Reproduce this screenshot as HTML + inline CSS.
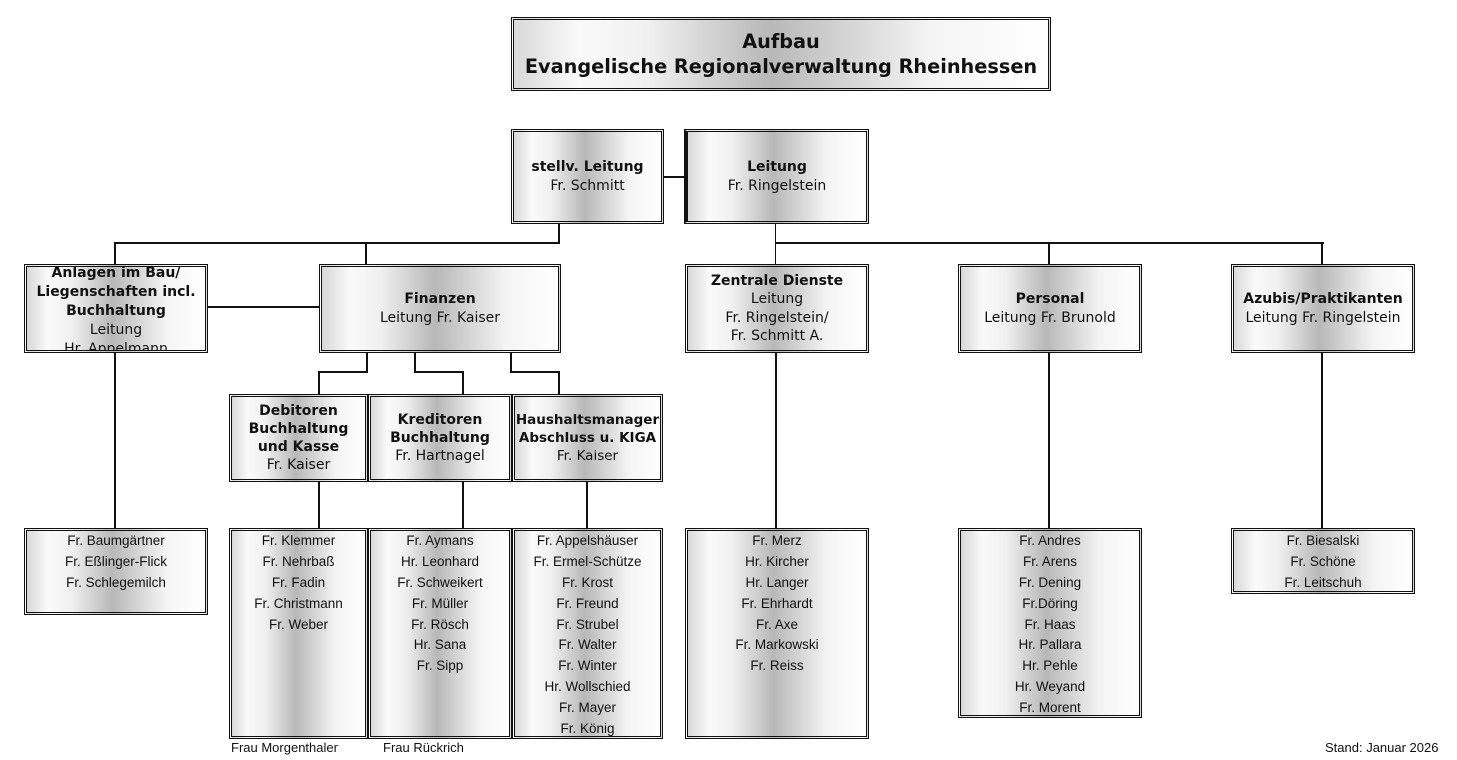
<!DOCTYPE html>
<html><head><meta charset="utf-8"><style>
body{margin:0;width:1457px;height:760px;background:#fff;position:relative;overflow:hidden;font-family:"DejaVu Sans","Liberation Sans",sans-serif;color:#111}
.b{position:absolute;box-sizing:border-box;border:3px double #111;background:linear-gradient(to right,#d8d8d8 0%,#fafafa 12%,#f0f0f0 25%,#b8b8b8 48%,#f4f4f4 78%,#ffffff 100%);display:flex;flex-direction:column;align-items:center;justify-content:center;text-align:center;font-size:14px;line-height:18.5px}
.b b{font-weight:bold}
.l{position:absolute;box-sizing:border-box;border:3px double #111;background:linear-gradient(to right,#d8d8d8 0%,#fafafa 12%,#f0f0f0 25%,#b8b8b8 48%,#f4f4f4 78%,#ffffff 100%);text-align:center;font-family:"Liberation Sans",sans-serif;font-size:13.5px;padding-top:0px}
.l div{height:20.9px;line-height:20px}
.h{position:absolute;height:2px;background:#111}
.v{position:absolute;width:2px;background:#111}
.t{position:absolute;font-family:"Liberation Sans",sans-serif;font-size:13px}
</style></head><body>
<div class="b" style="left:511px;top:17px;width:540px;height:74px;font-size:19.3px;line-height:25px;font-weight:bold"><div>Aufbau</div><div>Evangelische Regionalverwaltung Rheinhessen</div></div>

<div class="b" style="left:511px;top:129px;width:153px;height:95px"><b>stellv. Leitung</b><div>Fr. Schmitt</div></div>
<div class="b" style="left:684px;top:129px;width:185px;height:95px;border-left:4px solid #111"><b>Leitung</b><div>Fr. Ringelstein</div></div>
<div class="h" style="left:663px;top:176px;width:22px"></div>

<div class="v" style="left:558px;top:223px;height:21px"></div>
<div class="h" style="left:114px;top:242px;width:446px"></div>
<div class="v" style="left:114px;top:242px;height:22px"></div>
<div class="v" style="left:365px;top:242px;height:22px"></div>
<div class="v" style="left:775px;top:223px;height:41px;width:1px"></div>
<div class="h" style="left:775px;top:242px;width:549px"></div>
<div class="v" style="left:1048px;top:242px;height:22px"></div>
<div class="v" style="left:1321px;top:242px;height:22px"></div>

<div class="b" style="left:24px;top:264px;width:184px;height:89px;justify-content:flex-start;line-height:19px;overflow:hidden"><div style="margin-top:-3px"><b>Anlagen im Bau/<br>Liegenschaften incl.<br>Buchhaltung</b></div><div>Leitung</div><div>Hr. Appelmann</div></div>
<div class="h" style="left:207px;top:306px;width:113px"></div>
<div class="b" style="left:319px;top:264px;width:242px;height:89px"><b>Finanzen</b><div>Leitung Fr. Kaiser</div></div>
<div class="b" style="left:685px;top:264px;width:184px;height:89px"><b>Zentrale Dienste</b><div>Leitung</div><div>Fr. Ringelstein/</div><div>Fr. Schmitt A.</div></div>
<div class="b" style="left:958px;top:264px;width:184px;height:89px"><b>Personal</b><div>Leitung Fr. Brunold</div></div>
<div class="b" style="left:1231px;top:264px;width:184px;height:89px"><b>Azubis/Praktikanten</b><div>Leitung Fr. Ringelstein</div></div>

<div class="v" style="left:366px;top:352px;height:21px"></div>
<div class="h" style="left:318px;top:371px;width:50px"></div>
<div class="v" style="left:318px;top:371px;height:23px"></div>
<div class="v" style="left:414px;top:352px;height:21px"></div>
<div class="h" style="left:414px;top:371px;width:50px"></div>
<div class="v" style="left:462px;top:371px;height:23px"></div>
<div class="v" style="left:510px;top:352px;height:21px"></div>
<div class="h" style="left:510px;top:371px;width:50px"></div>
<div class="v" style="left:558px;top:371px;height:23px"></div>

<div class="b" style="left:229px;top:394px;width:139px;height:88px;line-height:18px"><b>Debitoren<br>Buchhaltung<br>und Kasse</b><div>Fr. Kaiser</div></div>
<div class="b" style="left:368px;top:394px;width:144px;height:88px;line-height:18px"><b>Kreditoren<br>Buchhaltung</b><div>Fr. Hartnagel</div></div>
<div class="b" style="left:512px;top:394px;width:151px;height:88px;line-height:18px;font-size:13.5px"><b>Haushaltsmanager<br>Abschluss u. KIGA</b><div>Fr. Kaiser</div></div>

<div class="v" style="left:114px;top:352px;height:176px"></div>
<div class="v" style="left:318px;top:481px;height:47px"></div>
<div class="v" style="left:462px;top:481px;height:47px"></div>
<div class="v" style="left:586px;top:481px;height:47px"></div>
<div class="v" style="left:775px;top:352px;height:176px"></div>
<div class="v" style="left:1048px;top:352px;height:176px"></div>
<div class="v" style="left:1321px;top:352px;height:176px"></div>

<div class="l" style="left:24px;top:528px;width:184px;height:87px"><div>Fr. Baumgärtner</div><div>Fr. Eßlinger-Flick</div><div>Fr. Schlegemilch</div></div>
<div class="l" style="left:229px;top:528px;width:139px;height:211px"><div>Fr. Klemmer</div><div>Fr. Nehrbaß</div><div>Fr. Fadin</div><div>Fr. Christmann</div><div>Fr. Weber</div></div>
<div class="l" style="left:368px;top:528px;width:144px;height:211px"><div>Fr. Aymans</div><div>Hr. Leonhard</div><div>Fr. Schweikert</div><div>Fr. Müller</div><div>Fr. Rösch</div><div>Hr. Sana</div><div>Fr. Sipp</div></div>
<div class="l" style="left:512px;top:528px;width:151px;height:211px"><div>Fr. Appelshäuser</div><div>Fr. Ermel-Schütze</div><div>Fr. Krost</div><div>Fr. Freund</div><div>Fr. Strubel</div><div>Fr. Walter</div><div>Fr. Winter</div><div>Hr. Wollschied</div><div>Fr. Mayer</div><div>Fr. König</div></div>
<div class="l" style="left:685px;top:528px;width:184px;height:211px"><div>Fr. Merz</div><div>Hr. Kircher</div><div>Hr. Langer</div><div>Fr. Ehrhardt</div><div>Fr. Axe</div><div>Fr. Markowski</div><div>Fr. Reiss</div></div>
<div class="l" style="left:958px;top:528px;width:184px;height:190px"><div>Fr. Andres</div><div>Fr. Arens</div><div>Fr. Dening</div><div>Fr.Döring</div><div>Fr. Haas</div><div>Hr. Pallara</div><div>Hr. Pehle</div><div>Hr. Weyand</div><div>Fr. Morent</div></div>
<div class="l" style="left:1231px;top:528px;width:184px;height:66px"><div>Fr. Biesalski</div><div>Fr. Schöne</div><div>Fr. Leitschuh</div></div>

<div class="t" style="left:231px;top:740px">Frau Morgenthaler</div>
<div class="t" style="left:383px;top:740px">Frau Rückrich</div>
<div class="t" style="left:1325px;top:740px">Stand: Januar 2026</div>
</body></html>
